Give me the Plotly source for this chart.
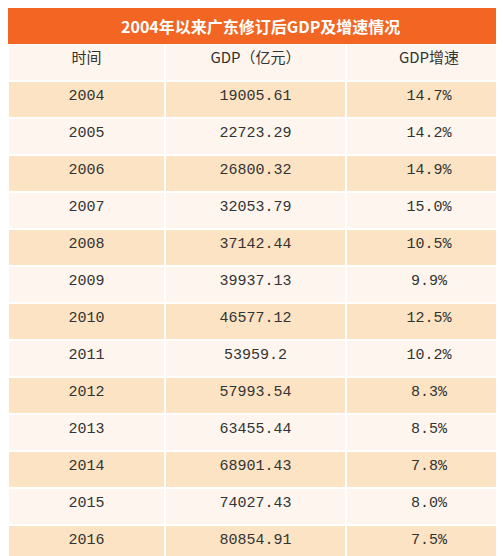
import plotly.graph_objects as go

title = "2004年以来广东修订后GDP及增速情况"
headers = ["时间", "GDP（亿元）", "GDP增速"]
years = ["2004","2005","2006","2007","2008","2009","2010","2011","2012","2013","2014","2015","2016"]
gdp = ["19005.61","22723.29","26800.32","32053.79","37142.44","39937.13","46577.12","53959.2","57993.54","63455.44","68901.43","74027.43","80854.91"]
growth = ["14.7%","14.2%","14.9%","15.0%","10.5%","9.9%","12.5%","10.2%","8.3%","8.5%","7.8%","8.0%","7.5%"]

W, H = 504, 556
TB = 36
PH = H - TB
odd, even = "#FCE3C3", "#FEF6EE"
fills = [odd if i % 2 == 0 else even for i in range(len(years))]
font = dict(family="Liberation Mono, Noto Sans CJK SC", size=15, color="#333333")

fig = go.Figure(go.Table(
    columnwidth=[157, 181, 166],
    header=dict(values=headers, fill_color=even, align="center", height=37,
                line=dict(color="white", width=1.5),
                font=dict(family="Noto Sans CJK SC", size=15, color="#333333")),
    cells=dict(values=[years, gdp, growth], fill_color=[fills]*3, align="center",
               height=37, line=dict(color="white", width=1.5), font=font),
    domain=dict(x=[0, 1], y=[0, 1]),
))
fig.add_shape(type="rect", xref="paper", yref="paper", x0=0, x1=1, y0=1, y1=1 + TB / PH,
              fillcolor="#F26522", line_width=0)
fig.add_annotation(text="<b>" + title + "</b>", xref="paper", yref="paper", x=0.5,
                   y=1 + TB / PH / 2, yanchor="middle", showarrow=False,
                   font=dict(family="Noto Sans CJK SC", size=16, color="white"))
fig.update_layout(width=W, height=H, margin=dict(l=0, r=0, t=TB, b=0),
                  paper_bgcolor="white")
fig.write_html("out.html")
